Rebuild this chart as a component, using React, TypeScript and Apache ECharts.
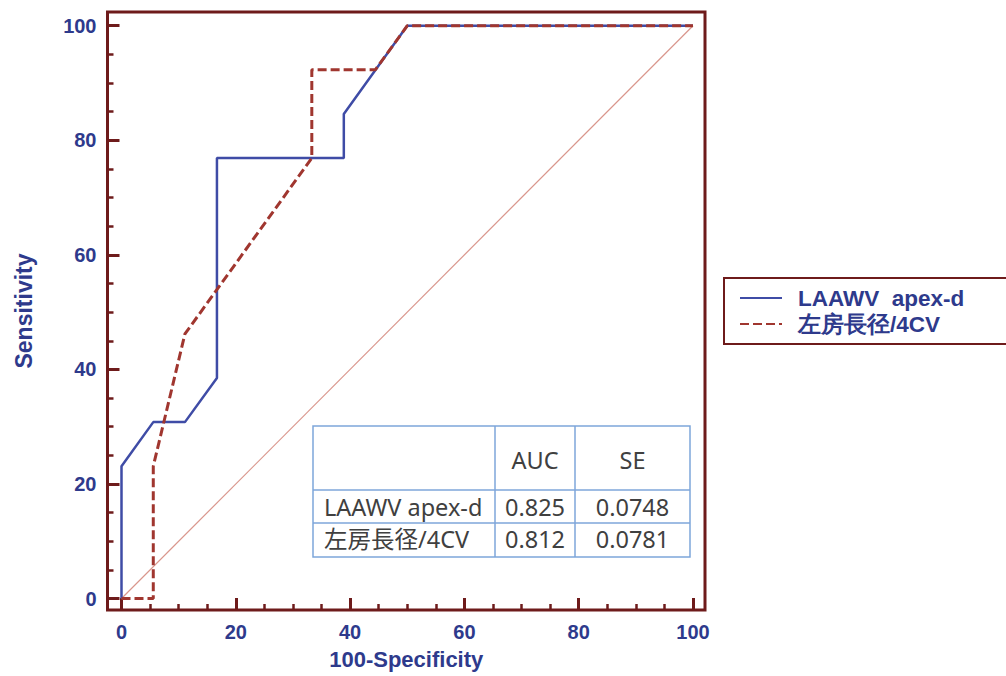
import React, { useEffect, useRef } from "react";
import * as echarts from "echarts";

// ROC curve data (100-Specificity, Sensitivity)
const LAAWV_X = [0, 0, 5.56, 11.1, 16.7, 16.7, 38.9, 38.9, 50, 100];
const LAAWV_Y = [0, 23.1, 30.8, 30.8, 38.5, 76.9, 76.9, 84.6, 100, 100];
const LA_X = [0, 5.56, 5.56, 11.1, 33.3, 33.3, 44.4, 50, 100];
const LA_Y = [0, 0, 23.1, 46.2, 76.9, 92.3, 92.3, 100, 100];
const REF_X = [0, 100];
const REF_Y = [0, 100];

const SERIES_NAMES = ["LAAWV  apex-d", "左房長径/4CV"];

const MAJOR_TICKS = [0, 20, 40, 60, 80, 100];
const MINOR_TICKS = [5, 10, 15, 25, 30, 35, 45, 50, 55, 65, 70, 75, 85, 90, 95];

const TABLE_HEAD = ["", "AUC", "SE"];
const TABLE_ROWS = [
  ["LAAWV apex-d", "0.825", "0.0748"],
  ["左房長径/4CV", "0.812", "0.0781"],
];

const FRAME = "#6E1B1B";
const NAVY = "#2E3A8C";
const BLUE = "#3F4CA6";
const RED = "#A0362F";
const TABLE_LINE = "#7EA6DA";
const LATIN = "'Liberation Sans', Arial, sans-serif";
const TFONT = "'Noto Sans', 'Noto Sans CJK JP', sans-serif";

function pairs(xs: number[], ys: number[]) {
  return xs.map((x, i) => [x, ys[i]]);
}

export default function App() {
  const ref = useRef<HTMLDivElement>(null);
  useEffect(() => {
    document.body.style.margin = "0";
    const chart = echarts.init(ref.current!, null, { renderer: "svg" });

    const colX = [313, 495, 575, 690];
    const rowY = [426, 490, 523, 557];
    const allRows = [TABLE_HEAD, ...TABLE_ROWS];
    const graphics: any[] = [
      {
        type: "rect",
        shape: { x: colX[0], y: rowY[0], width: colX[3] - colX[0], height: rowY[3] - rowY[0] },
        style: { fill: "#fff", stroke: TABLE_LINE, lineWidth: 1.5 },
        z: 10,
      },
    ];
    for (let i = 1; i < 3; i++) {
      graphics.push({
        type: "line",
        shape: { x1: colX[i], y1: rowY[0], x2: colX[i], y2: rowY[3] },
        style: { stroke: TABLE_LINE, lineWidth: 1.5 },
        z: 11,
      });
      graphics.push({
        type: "line",
        shape: { x1: colX[0], y1: rowY[i], x2: colX[3], y2: rowY[i] },
        style: { stroke: TABLE_LINE, lineWidth: 1.5 },
        z: 11,
      });
    }
    const rowCenters = [460, 507, 539];
    allRows.forEach((row, r) => {
      row.forEach((cell, c) => {
        if (!cell) return;
        graphics.push({
          type: "text",
          x: c === 0 ? colX[0] + 11 : (colX[c] + colX[c + 1]) / 2,
          y: rowCenters[r],
          style: {
            text: cell,
            fill: "#404040",
            font: `23.5px ${TFONT}`,
            align: c === 0 ? "left" : "center",
            verticalAlign: "middle",
          },
          z: 12,
        });
      });
    });

    const labelStyle = {
      fontSize: 20,
      fontWeight: "bold" as const,
      fontFamily: LATIN,
      color: NAVY,
    };
    const nameStyle = { fontSize: 23, fontWeight: "bold" as const, fontFamily: LATIN, color: NAVY };

    const baseAxis = {
      type: "value" as const,
      axisLine: { show: false, onZero: false },
      splitLine: { show: false },
    };

    chart.setOption({
      animation: false,
      backgroundColor: "#fff",
      grid: {
        left: 107.5,
        top: 12,
        right: 301,
        bottom: 66,
        containLabel: false,
        outerBoundsMode: "none",
        show: true,
        borderColor: FRAME,
        borderWidth: 3,
        backgroundColor: "#fff",
      },
      xAxis: [
        {
          ...baseAxis,
          min: -2.45,
          max: 102.1,
          position: "bottom",
          name: "100-Specificity",
          nameLocation: "middle",
          nameGap: 38,
          nameTextStyle: { ...nameStyle, fontSize: 22 },
          axisTick: { show: true, inside: true, length: 12, customValues: MAJOR_TICKS, lineStyle: { color: FRAME, width: 3 } },
          axisLabel: { ...labelStyle, margin: 12, customValues: MAJOR_TICKS },
        },
        {
          ...baseAxis,
          min: -2.45,
          max: 102.1,
          position: "bottom",
          axisTick: { show: true, inside: true, length: 6, customValues: MINOR_TICKS, lineStyle: { color: FRAME, width: 2.5 } },
          axisLabel: { show: false },
        },
      ],
      yAxis: [
        {
          ...baseAxis,
          min: -2.0,
          max: 102.4,
          position: "left",
          name: "Sensitivity",
          nameLocation: "middle",
          nameGap: 72,
          nameTextStyle: nameStyle,
          axisTick: { show: true, inside: true, length: 12, customValues: MAJOR_TICKS, lineStyle: { color: FRAME, width: 3 } },
          axisLabel: { ...labelStyle, margin: 11, customValues: MAJOR_TICKS },
        },
        {
          ...baseAxis,
          min: -2.0,
          max: 102.4,
          position: "left",
          axisTick: { show: true, inside: true, length: 6, customValues: MINOR_TICKS, lineStyle: { color: FRAME, width: 2.5 } },
          axisLabel: { show: false },
        },
      ],
      legend: {
        orient: "vertical",
        left: 724,
        top: 278,
        itemWidth: 42,
        itemHeight: 14,
        itemGap: 2,
        padding: [8, 60, 8, 15],
        borderColor: FRAME,
        borderWidth: 2,
        data: SERIES_NAMES,
        itemStyle: { opacity: 0 },
        textStyle: {
          fontSize: 22.5,
          fontWeight: "bold",
          fontFamily: LATIN,
          color: NAVY,
          lineHeight: 24,
          padding: [0, 0, 0, 11],
        },
      },
      series: [
        {
          type: "line",
          name: "ref",
          data: pairs(REF_X, REF_Y),
          symbol: "none",
          silent: true,
          color: "#D9968C",
          lineStyle: { color: "#D9968C", width: 1.2 },
          z: 1,
        },
        {
          type: "line",
          name: SERIES_NAMES[0],
          data: pairs(LAAWV_X, LAAWV_Y),
          symbol: "none",
          color: BLUE,
          lineStyle: { color: BLUE, width: 2.5 },
          z: 2,
        },
        {
          type: "line",
          name: SERIES_NAMES[1],
          data: pairs(LA_X, LA_Y),
          symbol: "none",
          color: RED,
          lineStyle: { color: RED, width: 3, type: [9, 4] },
          z: 3,
        },
      ],
      graphic: graphics,
    });
    return () => chart.dispose();
  }, []);
  return (
    <div
      ref={ref}
      style={{ position: "fixed", left: 0, top: 0, width: 1006, height: 676, background: "#fff" }}
    />
  );
}
